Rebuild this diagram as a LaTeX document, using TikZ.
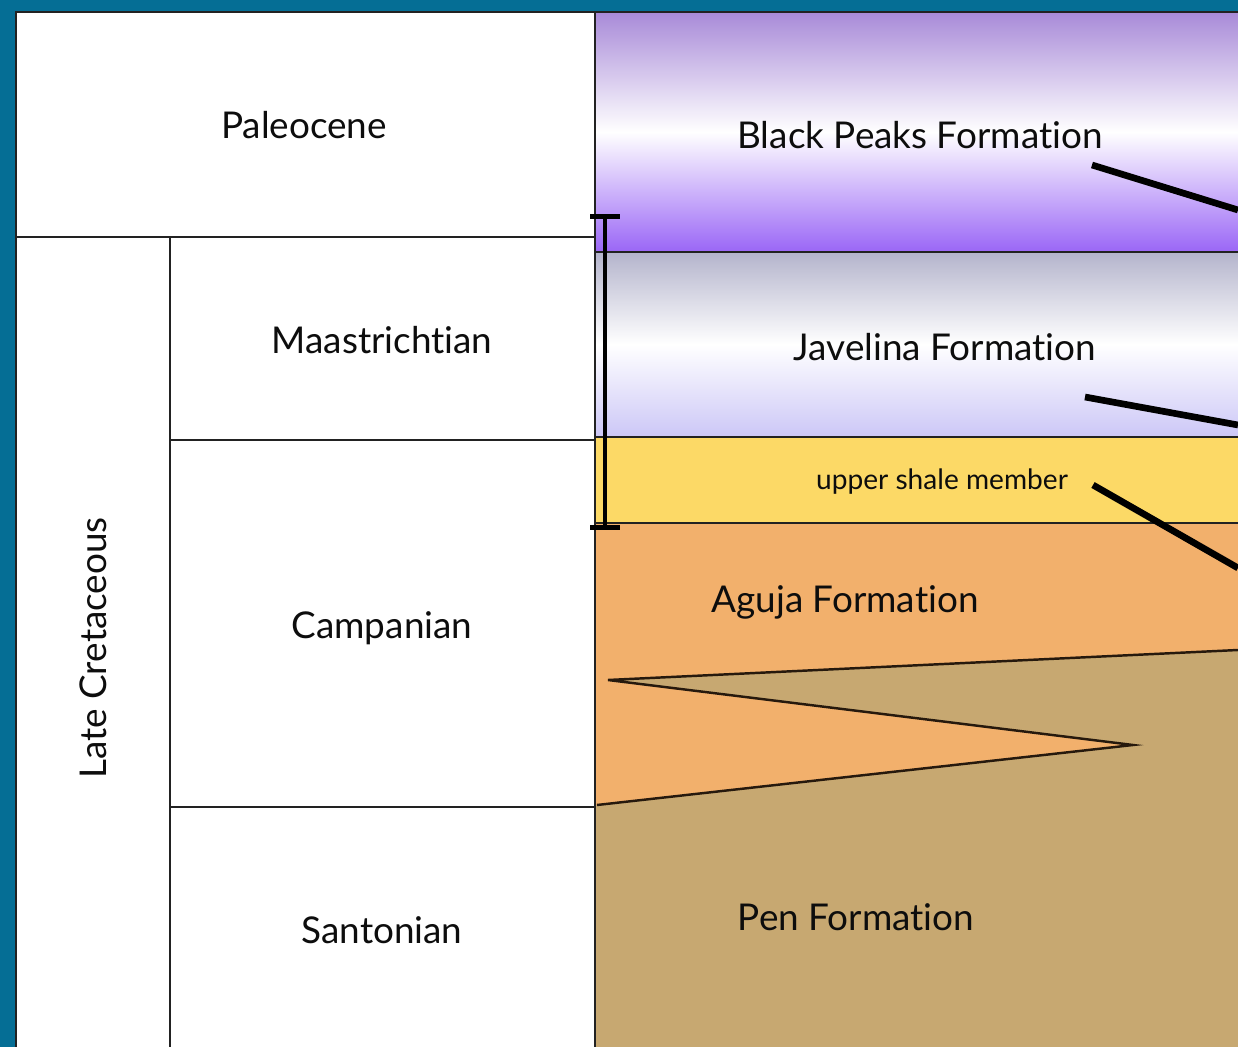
\documentclass[tikz,border=0pt]{standalone}
\usepackage{fontspec}
\setmainfont{Lato}[Ligatures=NoCommon]
\usetikzlibrary{arrows.meta}
\definecolor{frameblue}{HTML}{056E95}
\definecolor{bpTop}{HTML}{A88AD8}
\definecolor{bpBottom}{HTML}{9A66F6}
\definecolor{jvTop}{HTML}{B4B4CC}
\definecolor{jvBottom}{HTML}{CCC7F7}
\definecolor{shale}{HTML}{FCD966}
\definecolor{aguja}{HTML}{F2B06C}
\definecolor{pen}{HTML}{C7A871}
\definecolor{rule}{HTML}{222222}

\begin{document}
\begin{tikzpicture}[
    x=0.02cm, y=-0.02cm,
    cell/.style={draw=rule, line width=1.3pt},
    stagename/.style={font=\fontsize{21}{25}\selectfont, text=black!95},
    formname/.style={font=\fontsize{21}{25}\selectfont, text=black!95},
    membername/.style={font=\fontsize{16}{19}\selectfont, text=black!95},
    pointer/.style={draw, line width=3.8pt},
    contact/.style={draw=black!80!brown, line width=1.4pt, line join=miter}
]

% Define frame
\fill[frameblue] (0,0) rectangle (1238,1047);
\fill[white] (16,12) rectangle (1238,1047);
\useasboundingbox (0,0) rectangle (1238,1047);

% Define formation layers
\fill[top color=bpTop, bottom color=bpBottom, middle color=white] (595,12) rectangle (1238,252);
\fill[top color=jvTop, bottom color=jvBottom, middle color=white] (595,252) rectangle (1238,437);
\fill[shale] (595,437) rectangle (1238,523);
\fill[pen] (595,523) rectangle (1238,1047);
\fill[aguja] (595,523) -- (1238,523) -- (1238,650) -- (608,680) -- (1133,745)
    -- (597,805) -- (595,805) -- cycle;
\path[contact] (1238,650) -- (608,680) -- (1133,745) -- (597,805);

% Define table lines
\path[cell] (1238,12) -- (16,12) -- (16,1047);
\path[cell] (16,237) -- (595,237);
\path[cell] (170,237) -- (170,1047);
\path[cell] (170,440) -- (595,440);
\path[cell] (170,807) -- (595,807);
\path[cell] (595,12) -- (595,1047);
\path[cell] (595,252) -- (1238,252);
\path[cell] (595,437) -- (1238,437);
\path[cell] (595,523) -- (1238,523);

% Define time units
\node[stagename] (paleocene) at (304,125) {Paleocene};
\node[stagename, rotate=90] (latecret) at (93,648) {Late Cretaceous};
\node[stagename] (maastricht) at (382,340) {Maastrichtian};
\node[stagename] (campanian) at (382,628) {Campanian};
\node[stagename] (santonian) at (382,930) {Santonian};

% Define formations
\node[formname] (blackpeaks) at (920,135) {Black Peaks Formation};
\node[formname] (javelina) at (945,347) {Javelina Formation};
\node[membername] (uppershale) at (942,482) {upper shale member};
\node[formname] (aguja) at (845,602) {Aguja Formation};
\node[formname] (pen) at (856,917) {Pen Formation};

% Define pointers
\coordinate (bp-tick) at (1092,165);
\coordinate (bp-end) at (1238,210);
\coordinate (jv-tick) at (1085,397);
\coordinate (jv-end) at (1238,425);
\coordinate (us-tick) at (1093,485);
\coordinate (us-end) at (1238,568);
\path[pointer] (bp-tick) -- (bp-end);
\path[pointer] (jv-tick) -- (jv-end);
\path[pointer] (us-tick) -- (us-end);

% Define range bar
\coordinate (range-top) at (605,214);
\coordinate (range-bot) at (605,530);
\draw[line width=2.6pt, {Bar[width=17pt]}-{Bar[width=17pt]}] (range-top) -- (range-bot);

\end{tikzpicture}
\end{document}
